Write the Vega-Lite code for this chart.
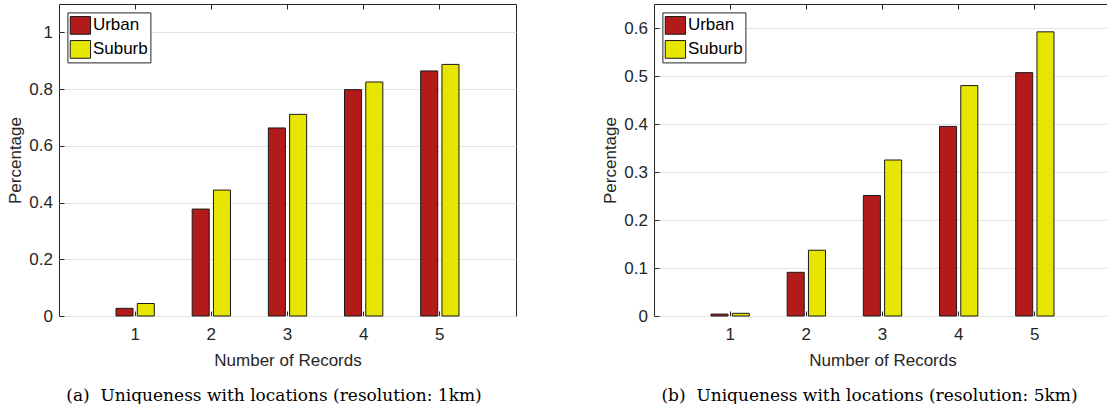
{
  "$schema": "https://vega.github.io/schema/vega-lite/v6.json",
  "background": "white",
  "padding": {"left": 6, "top": 3, "right": 0, "bottom": 0},
  "spacing": 84,
  "config": {
    "font": "Liberation Sans",
    "view": {"stroke": "#262626", "strokeWidth": 1},
    "axis": {
      "domain": false,
      "labelFont": "Liberation Sans",
      "labelFontSize": 17,
      "labelColor": "#262626",
      "titleFont": "Liberation Sans",
      "titleFontSize": 17,
      "titleFontWeight": "normal",
      "titleColor": "#262626",
      "tickColor": "#262626",
      "tickSize": -5,
      "tickWidth": 1,
      "gridColor": "#e3e3e3",
      "gridWidth": 1
    },
    "legend": {
      "symbolType": "M-1,-0.872H1V0.872H-1Z",
      "symbolSize": 412,
      "symbolStrokeColor": "#1a1a1a",
      "symbolStrokeWidth": 1,
      "symbolOpacity": 1,
      "labelFont": "Liberation Sans",
      "labelFontSize": 17,
      "labelColor": "black",
      "labelOffset": 1.5,
      "padding": 2,
      "rowPadding": 2,
      "strokeColor": "#262626",
      "fillColor": "white"
    }
  },
  "datasets": {
    "km1": [
      {"records": 1, "area": "Urban", "pct": 0.027},
      {"records": 1, "area": "Suburb", "pct": 0.044},
      {"records": 2, "area": "Urban", "pct": 0.377},
      {"records": 2, "area": "Suburb", "pct": 0.444},
      {"records": 3, "area": "Urban", "pct": 0.663},
      {"records": 3, "area": "Suburb", "pct": 0.711},
      {"records": 4, "area": "Urban", "pct": 0.798},
      {"records": 4, "area": "Suburb", "pct": 0.825},
      {"records": 5, "area": "Urban", "pct": 0.864},
      {"records": 5, "area": "Suburb", "pct": 0.887}
    ],
    "km5": [
      {"records": 1, "area": "Urban", "pct": 0.004},
      {"records": 1, "area": "Suburb", "pct": 0.0056},
      {"records": 2, "area": "Urban", "pct": 0.091},
      {"records": 2, "area": "Suburb", "pct": 0.137},
      {"records": 3, "area": "Urban", "pct": 0.251},
      {"records": 3, "area": "Suburb", "pct": 0.325},
      {"records": 4, "area": "Urban", "pct": 0.395},
      {"records": 4, "area": "Suburb", "pct": 0.480},
      {"records": 5, "area": "Urban", "pct": 0.507},
      {"records": 5, "area": "Suburb", "pct": 0.592}
    ]
  },
  "hconcat": [
    {
      "width": 457,
      "height": 312,
      "data": {"name": "km1"},
      "title": {"text": "(a)\u00a0 Uniqueness with locations (resolution: 1km)", "orient": "bottom", "anchor": "middle", "frame": "group", "dx": -13.5, "offset": 19.5, "font": "DejaVu Serif", "fontSize": 17, "fontWeight": "normal", "color": "black"},
      "mark": {"type": "bar", "stroke": "#1a1a1a", "strokeWidth": 1},
      "encoding": {
        "x": {"field": "records", "type": "ordinal", "title": "Number of Records", "scale": {"paddingInner": 0.497, "paddingOuter": 0.7485}, "axis": {"orient": "bottom", "labelAngle": 0, "ticks": false, "labelPadding": 10, "titlePadding": 10, "grid": true, "gridColor": "#262626", "gridDash": [5, 302]}},
        "y": {"field": "pct", "type": "quantitative", "title": "Percentage", "scale": {"domain": [0, 1.1], "nice": false, "zero": true}, "axis": {"orient": "left", "values": [0, 0.2, 0.4, 0.6, 0.8, 1], "format": "~g", "labelPadding": 11.6, "titlePadding": 4, "grid": true}},
        "xOffset": {"field": "area", "type": "nominal", "sort": ["Urban", "Suburb"], "scale": {"paddingInner": 0.198, "paddingOuter": 0}},
        "color": {"field": "area", "type": "nominal", "sort": ["Urban", "Suburb"], "scale": {"domain": ["Urban", "Suburb"], "range": ["#b31a1a", "#e6e600"]}, "legend": {"title": null, "orient": "none", "legendX": 8.4, "legendY": 8.4}}
      }
    },
    {
      "width": 457,
      "height": 312,
      "data": {"name": "km5"},
      "title": {"text": "(b)\u00a0 Uniqueness with locations (resolution: 5km)", "orient": "bottom", "anchor": "middle", "frame": "group", "dx": -13, "offset": 19.5, "font": "DejaVu Serif", "fontSize": 17, "fontWeight": "normal", "color": "black"},
      "mark": {"type": "bar", "stroke": "#1a1a1a", "strokeWidth": 1},
      "encoding": {
        "x": {"field": "records", "type": "ordinal", "title": "Number of Records", "scale": {"paddingInner": 0.497, "paddingOuter": 0.7485}, "axis": {"orient": "bottom", "labelAngle": 0, "ticks": false, "labelPadding": 10, "titlePadding": 10, "grid": true, "gridColor": "#262626", "gridDash": [5, 302]}},
        "y": {"field": "pct", "type": "quantitative", "title": "Percentage", "scale": {"domain": [0, 0.65], "nice": false, "zero": true}, "axis": {"orient": "left", "values": [0, 0.1, 0.2, 0.3, 0.4, 0.5, 0.6], "format": "~g", "labelPadding": 11.6, "titlePadding": 4, "grid": true}},
        "xOffset": {"field": "area", "type": "nominal", "sort": ["Urban", "Suburb"], "scale": {"paddingInner": 0.198, "paddingOuter": 0}},
        "color": {"field": "area", "type": "nominal", "sort": ["Urban", "Suburb"], "scale": {"domain": ["Urban", "Suburb"], "range": ["#b31a1a", "#e6e600"]}, "legend": {"title": null, "orient": "none", "legendX": 8.4, "legendY": 8.4}}
      }
    }
  ],
  "resolve": {"scale": {"color": "independent"}}
}
